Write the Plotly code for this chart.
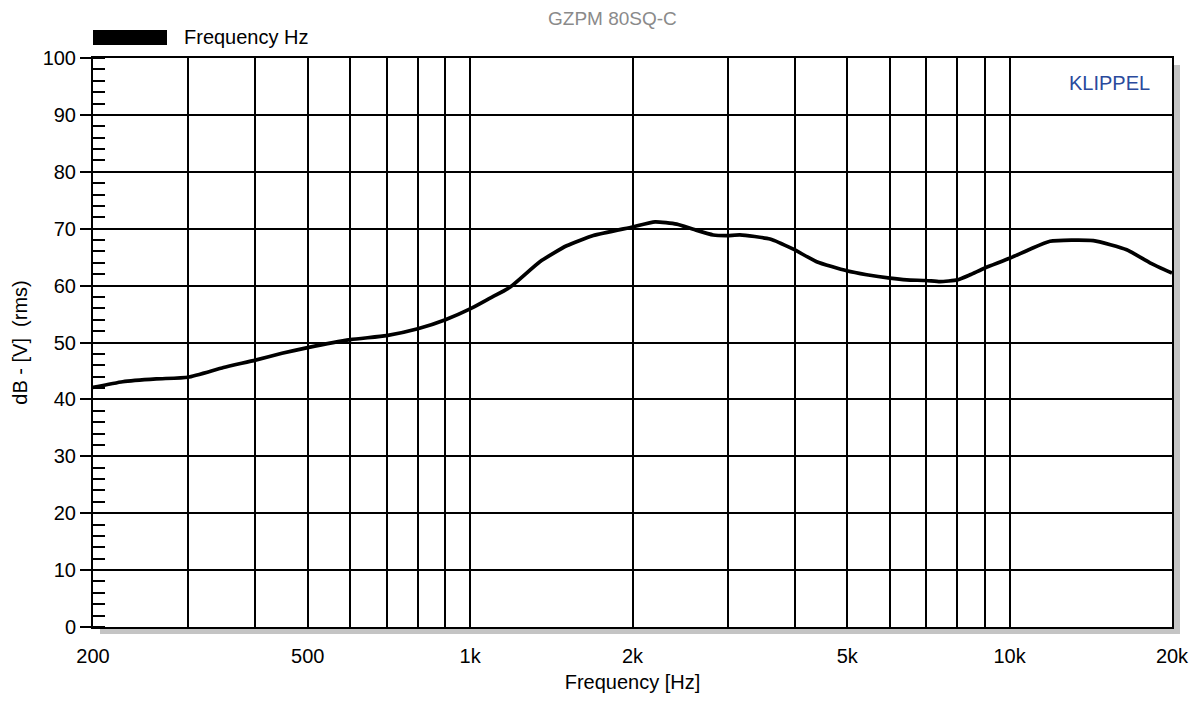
import math
import plotly.graph_objects as go

freq_hz = [200, 227, 262, 300, 349, 400, 448, 500, 600, 700, 800, 900, 1000,
           1089, 1185, 1347, 1510, 1692, 2000, 2202, 2415, 2593, 2823, 3000, 3164,
           3596, 3973, 4389, 4989, 5435, 6000, 6446, 7000, 7430, 8000, 8447, 9000,
           10000, 10910, 11883, 14298, 16483, 18202, 20000]
level_db = [42.1, 43.1, 43.6, 43.9, 45.6, 46.9, 48.1, 49.1, 50.5, 51.2, 52.4, 54.0, 55.9,
            57.8, 59.7, 64.2, 67.0, 68.8, 70.3, 71.2, 70.8, 69.9, 68.9, 68.8, 68.9,
            68.2, 66.4, 64.2, 62.6, 61.9, 61.3, 61.0, 60.9, 60.7, 61.0, 61.9, 63.1,
            64.8, 66.4, 67.8, 67.9, 66.3, 64.0, 62.2]

grid_freqs = [200, 300, 400, 500, 600, 700, 800, 900, 1000, 2000, 3000, 4000, 5000,
              6000, 7000, 8000, 9000, 10000, 20000]
grid_labels = ["200", "", "", "500", "", "", "", "", "1k", "2k", "", "", "5k",
               "", "", "", "", "10k", "20k"]
y_ticks = list(range(0, 101, 10))

FONT = "Liberation Sans, Arial, sans-serif"
PW, PH = 1079, 569  # plot area size in px

fig = go.Figure()
fig.add_trace(go.Scatter(x=freq_hz, y=level_db, mode="lines",
                         line=dict(color="black", width=3.7, shape="spline", smoothing=0.5),
                         name="Frequency Hz", showlegend=False))

# shadow
fig.add_shape(type="rect", xref="paper", yref="paper", x0=1.0, x1=1.0 + 8/PW,
              y0=-7/PH, y1=1 - 7/PH, fillcolor="#c4c4c4", line_width=0, layer="below")
fig.add_shape(type="rect", xref="paper", yref="paper", x0=7/PW, x1=1.0 + 8/PW,
              y0=-7/PH, y1=0, fillcolor="#c4c4c4", line_width=0, layer="below")
# legend swatch
fig.add_shape(type="rect", xref="paper", yref="paper", x0=0, x1=74/PW,
              y0=(627-45)/PH, y1=(627-30)/PH, fillcolor="black", line_width=0)

fig.add_annotation(x=(182-93)/PW, y=(627-37)/PH, xref="paper", yref="paper",
                   text="Frequency Hz", showarrow=False, xanchor="left", yanchor="middle",
                   font=dict(family=FONT, size=20, color="black"))
fig.add_annotation(x=(612-93)/PW, y=(627-18)/PH, xref="paper", yref="paper",
                   text="GZPM 80SQ-C", showarrow=False, xanchor="center", yanchor="middle",
                   font=dict(family=FONT, size=19, color="#8a8a8a"))
fig.add_annotation(x=(1152-93)/PW, y=(627-83)/PH, xref="paper", yref="paper",
                   text="KLIPPEL", showarrow=False, xanchor="right", yanchor="middle",
                   font=dict(family=FONT, size=20, color="#2a4a9c"))

fig.update_layout(
    width=1185, height=685,
    margin=dict(l=85, r=21, t=50, b=66),
    paper_bgcolor="white", plot_bgcolor="white",
    font=dict(family=FONT, size=20, color="black"),
    showlegend=False,
)
fig.update_xaxes(type="log", range=[math.log10(200), math.log10(20000)],
                 tickmode="array", tickvals=grid_freqs, ticktext=grid_labels,
                 showgrid=True, gridcolor="black", gridwidth=1.5,
                 showline=True, linecolor="black", linewidth=2, mirror=True,
                 ticks="", ticklabelstandoff=10, zeroline=False,
                 automargin=False, ticklabeloverflow="allow",
                 title=dict(text="Frequency [Hz]", font=dict(size=20), standoff=28))
fig.update_yaxes(range=[0, 100], tickmode="array", tickvals=y_ticks,
                 showgrid=True, gridcolor="black", gridwidth=1.5,
                 showline=True, linecolor="black", linewidth=2, mirror=True,
                 ticks="outside", ticklen=11, tickwidth=1.5, tickcolor="black",
                 zeroline=False, automargin=False, ticklabeloverflow="allow",
                 minor=dict(dtick=2, ticks="inside", ticklen=12, tickwidth=1.5,
                            tickcolor="black", showgrid=False),
                 title=dict(text="dB - [V]  (rms)", font=dict(size=20), standoff=10))

fig.write_html("out.html")
